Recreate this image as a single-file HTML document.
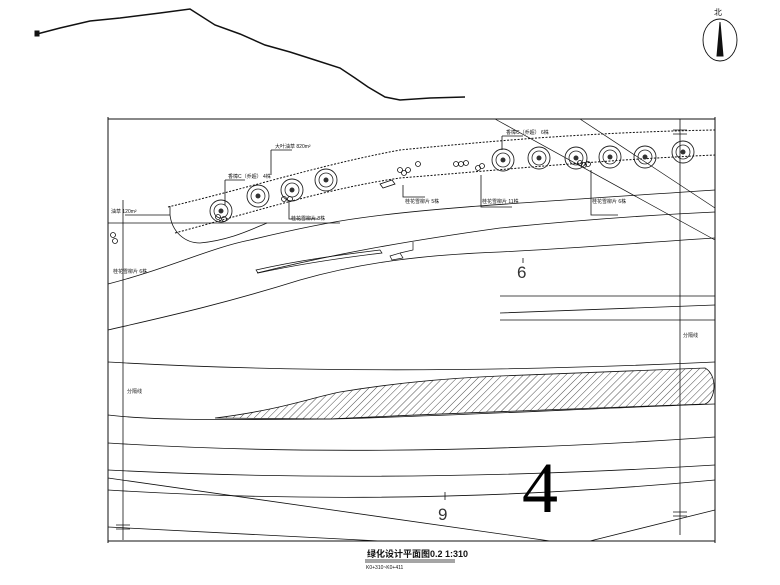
<!DOCTYPE html>
<html><head><meta charset="utf-8"><style>html,body{margin:0;padding:0;background:#fff}svg{display:block}</style></head>
<body>
<svg width="780" height="585" viewBox="0 0 780 585" xmlns="http://www.w3.org/2000/svg" font-family="'Liberation Sans','Noto Sans CJK SC',sans-serif">
<defs>
<pattern id="h" width="5" height="5" patternUnits="userSpaceOnUse" patternTransform="rotate(45)">
<line x1="0" y1="0" x2="0" y2="5" stroke="#222" stroke-width="0.8"/></pattern>
<g id="tree"><circle r="11" fill="none" stroke="#222" stroke-width="0.9"/><circle r="7" fill="none" stroke="#222" stroke-width="0.8"/><circle r="2.5" fill="#333"/></g>
</defs>
<g fill="none" stroke="#111">
<path d="M37,34 L60,28 L90,21 L120,18 L160,13 L190,9 L215,25 L240,34 L265,45 L290,52 L315,60 L340,68 L355,78 L368,87 L385,97 L400,100 L430,98 L465,97" stroke-width="1.5"/>
<rect x="35" y="31" width="4" height="5" fill="#111"/>
<ellipse cx="720" cy="40" rx="17" ry="21" stroke-width="0.9"/>
<path d="M720,22 L723,56 L717,56 Z" fill="#111"/>
<path d="M108,119 H715 M108,541 H715 M108,117 V543 M715,117 V543" stroke-width="1"/>
<path d="M123,200 V540 M680,119 V535" stroke-width="0.8"/>
<path d="M673,130 H687 M673,134 H687 M116,525 H130 M116,529 H130 M673,512 H687 M673,516 H687" stroke-width="0.8"/>
<path d="M495,119 L715,240 M580,119 L715,208" stroke-width="0.7"/>
<path d="M168,207 C260,185 320,165 400,150 C500,140 600,132 715,130" stroke-width="1" stroke-dasharray="2,1.5"/>
<path d="M175,233 C260,210 330,188 400,178 C500,170 600,160 715,155" stroke-width="1" stroke-dasharray="2,1.5"/>
<path d="M125,215 H170 V206 M170,215 C172,232 185,243 200,243 C230,240 250,230 267,223" stroke-width="0.8"/>
<path d="M108,223 H340" stroke-width="0.7"/>
<path d="M108,284 C170,268 210,248 250,240 C300,228 330,222 360,218 C430,208 520,203 715,190" stroke-width="0.8"/>
<path d="M108,330 C160,318 220,305 300,280 C360,263 420,255 500,252 C580,248 650,242 715,238" stroke-width="0.8"/>
<path d="M257,273 C330,255 400,242 500,228 C580,220 650,215 715,212" stroke-width="0.8"/>
<path d="M256,270 C300,260 340,255 380,250 L382,253 C340,258 300,264 258,273 Z" stroke-width="0.7"/>
<path d="M390,256 L400,253 L403,258 L392,260 Z M400,253 L413,250 V242" stroke-width="0.7"/>
<path d="M500,296 H715 M500,313 L715,305 M500,320 L715,320" stroke-width="0.8"/>
<path d="M108,362 C300,373 500,372 715,362" stroke-width="0.8"/>
<path d="M215,418 C280,410 310,398 340,392 C400,382 450,378 500,376 C600,372 660,370 705,368 C718,375 716,400 705,404 C600,408 450,413 330,419 Z" fill="url(#h)" stroke-width="0.8"/>
<path d="M108,415 C150,420 200,420 330,419 C450,416 600,408 715,404" stroke-width="0.8"/>
<path d="M108,443 C300,455 500,452 715,437" stroke-width="0.8"/>
<path d="M108,470 C300,480 500,478 715,465" stroke-width="0.8"/>
<path d="M108,490 C300,502 500,500 715,480" stroke-width="0.8"/>
<path d="M108,478 L550,541 M108,527 L380,541 M590,541 L715,510" stroke-width="0.8"/>
<path d="M445,492 V500 M523,258 V263" stroke-width="0.8"/>
</g>
<use href="#tree" x="221" y="211"/><use href="#tree" x="258" y="196"/><use href="#tree" x="292" y="190"/><use href="#tree" x="326" y="180"/>
<use href="#tree" x="503" y="160"/><use href="#tree" x="539" y="158"/><use href="#tree" x="576" y="158"/><use href="#tree" x="610" y="157"/><use href="#tree" x="645" y="157"/><use href="#tree" x="683" y="152"/>
<g fill="none" stroke="#111" stroke-width="0.8">
<circle cx="400" cy="170" r="2.5"/><circle cx="404" cy="173" r="2.5"/><circle cx="408" cy="170" r="2.5"/><circle cx="418" cy="164" r="2.5"/>
<circle cx="456" cy="164" r="2.5"/><circle cx="461" cy="164" r="2.5"/><circle cx="466" cy="163" r="2.5"/><circle cx="478" cy="168" r="2.5"/><circle cx="482" cy="166" r="2.5"/>
<circle cx="580" cy="163" r="2.5"/><circle cx="584" cy="165" r="2.5"/><circle cx="588" cy="164" r="2.5"/>
<circle cx="218" cy="217" r="2.5"/><circle cx="224" cy="219" r="2.5"/><circle cx="284" cy="199" r="2.5"/><circle cx="290" cy="199" r="2.5"/>
<circle cx="113" cy="235" r="2.5"/><circle cx="115" cy="241" r="2.5"/>
<path d="M380,184 L392,180 L395,184 L383,188 Z"/>
<path d="M271,150 V175 M271,150 H292 M403,185 V197 H425 M481,175 V207 H512 M591,170 V215 H618 M502,136 V150 M502,136 H523 M289,201 V219 H318 M225,180 V205 M225,180 H245"/>
</g>
<g font-size="5" fill="#111">
<text x="275" y="148">大叶油草 820m²</text>
<text x="228" y="178">香樟C（乔超） 4株</text>
<text x="506" y="134">香樟C（乔超） 6株</text>
<text x="405" y="203">桂花雪柳片 5株</text>
<text x="482" y="203">桂花雪柳片 11株</text>
<text x="592" y="203">桂花雪柳片 6株</text>
<text x="291" y="220">桂花雪柳片 8株</text>
<text x="111" y="213">油草 120m²</text>
<text x="113" y="273">桂花雪柳片 6株</text>
<text x="683" y="337">分隔线</text>
<text x="127" y="393">分隔线</text>
</g>
<text x="517" y="278" font-size="17" fill="#333">6</text>
<text x="438" y="520" font-size="17" fill="#333">9</text>
<text x="522" y="512" font-size="72" font-family="'Liberation Serif',serif" fill="#000">4</text>
<text x="714" y="15" font-size="8" fill="#111">北</text>
<text x="367" y="557" font-size="9" fill="#111" font-weight="bold">绿化设计平面图0.2 1:310</text>
<path d="M365,560 H455 M365,562 H455" stroke="#111" stroke-width="0.8"/>
<text x="366" y="569" font-size="5" fill="#111">K0+310~K0+411</text>
</svg>
</body></html>
